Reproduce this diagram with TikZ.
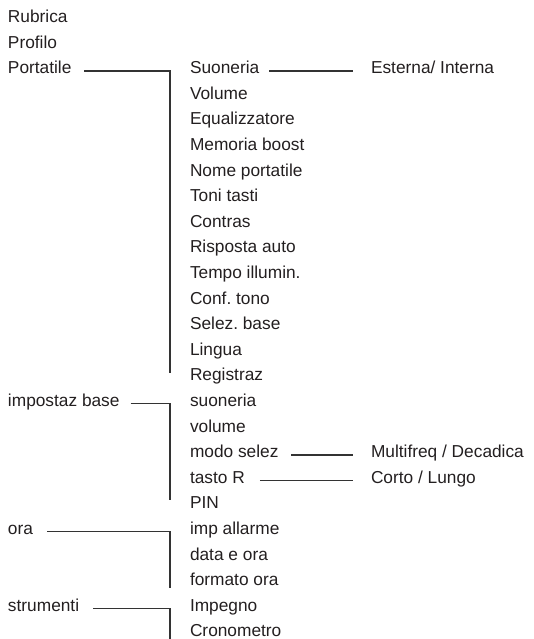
\documentclass[tikz,border=0pt]{standalone}
\usepackage{fontspec}
\setmainfont{Liberation Sans}
\frenchspacing
\definecolor{txt}{HTML}{231F20}
\definecolor{ln}{HTML}{333333}
\begin{document}
\begin{tikzpicture}[x=1pt,y=-1pt,
  lbl/.style={inner sep=0pt, outer sep=0pt, anchor=mid west, font=\fontsize{17.3}{20}\selectfont\frenchspacing, text=txt},
  conn/.style={draw=ln, line width=1.2pt}]
\useasboundingbox (0,0) rectangle (533,639);
\def\ax{8}\def\bx{190}\def\cx{371}
\def\rowy#1{{71+25.6*(#1)}}
% column A
\node[lbl] (rub) at (\ax,\rowy{-2}) {Rubrica};
\node[lbl] (pro) at (\ax,\rowy{-1}) {Profilo};
\node[lbl] (por) at (\ax,\rowy{0}) {Portatile};
\node[lbl] (imp) at (\ax,\rowy{13}) {impostaz base};
\node[lbl] (ora) at (\ax,\rowy{18}) {ora};
\node[lbl] (str) at (\ax,\rowy{21}) {strumenti};
% column B
\foreach \t [count=\i from 0] in {Suoneria,Volume,Equalizzatore,Memoria boost,Nome portatile,Toni tasti,Contras,Risposta auto,Tempo illumin.,Conf. tono,Selez. base,Lingua,Registraz,suoneria,volume,modo selez,tasto R,PIN,imp allarme,data e ora,formato ora,Impegno,Cronometro}
  \node[lbl] (b\i) at (\bx,\rowy{\i}) {\t};
% column C
\node[lbl] (c0) at (\cx,\rowy{0}) {Esterna/ Interna};
\node[lbl] (c15) at (\cx,\rowy{15}) {Multifreq / Decadica};
\node[lbl] (c16) at (\cx,\rowy{16}) {Corto / Lungo};
\coordinate (bot) at (170,639);
% connectors
\draw[conn] ([xshift=13pt]por.mid east) -- ([xshift=-20pt]b0.mid west) -- ([xshift=-20pt,yshift=5pt]b12.mid west);
\draw[conn] ([xshift=11pt]imp.mid east) -- ([xshift=-20pt]b13.mid west) -- ([xshift=-20pt,yshift=6pt]b17.mid west);
\draw[conn] ([xshift=14pt]ora.mid east) -- ([xshift=-20pt]b18.mid west) -- ([xshift=-20pt,yshift=-5pt]b20.mid west);
\draw[conn] ([xshift=14pt]str.mid east) -- ([xshift=-20pt]b21.mid west) -- (bot);
\draw[conn] ([xshift=10pt]b0.mid east) -- ([xshift=-18pt]c0.mid west);
\draw[conn] ([xshift=13pt]b15.mid east) -- ([xshift=-18pt]c15.mid west);
\draw[conn] ([xshift=15pt]b16.mid east) -- ([xshift=-18pt]c16.mid west);
\end{tikzpicture}
\end{document}
